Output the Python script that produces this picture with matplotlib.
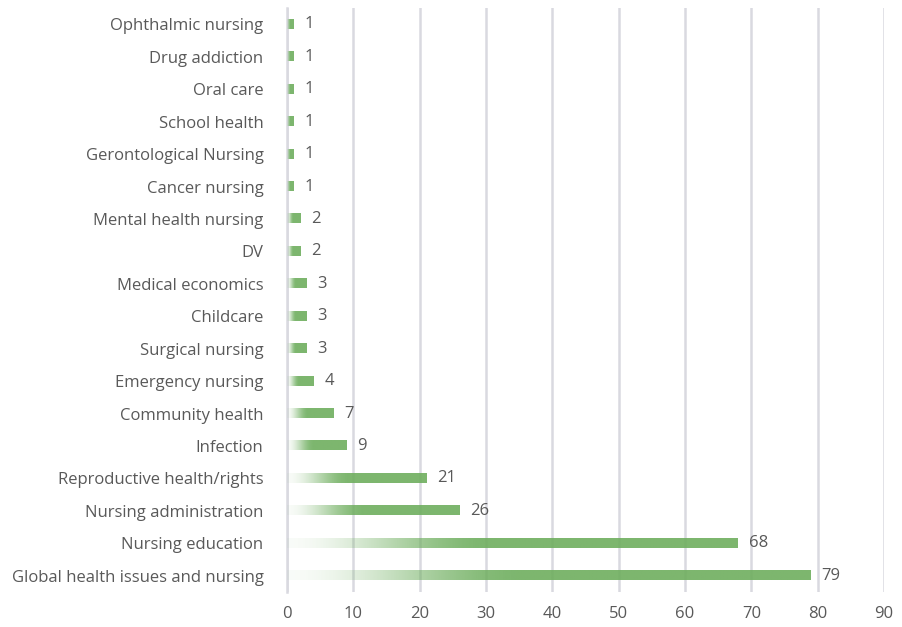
import numpy as np
import matplotlib
matplotlib.use("Agg")
from matplotlib import pyplot as plt
from matplotlib.colors import to_rgb

categories = ["Global health issues and nursing", "Nursing education", "Nursing administration",
              "Reproductive health/rights", "Infection", "Community health", "Emergency nursing",
              "Surgical nursing", "Childcare", "Medical economics", "DV", "Mental health nursing",
              "Cancer nursing", "Gerontological Nursing", "School health", "Oral care",
              "Drug addiction", "Ophthalmic nursing"]
counts = [79, 68, 26, 21, 9, 7, 4, 3, 3, 3, 2, 2, 1, 1, 1, 1, 1, 1]

plt.rcParams['font.family'] = ['Open Sans', 'DejaVu Sans']
text_color = "#595959"
green = to_rgb("#6eae5e")

fig = plt.figure(figsize=(9.03, 6.27), dpi=100)
ax = fig.add_axes([0.318, 0.056, 0.661, 0.931])

bar_h = 0.28
ramp = np.linspace(0, 1, 256)
for i, v in enumerate(counts):
    # fade from white at the left edge to green
    t = np.clip(ramp / 0.45, 0, 1)
    alpha = (0.05 + 0.95 * t * t * (3 - 2 * t)) * 0.9
    img = np.zeros((1, 256, 4))
    img[..., :3] = green
    img[..., 3] = alpha
    ax.imshow(img, extent=[0, v, i - bar_h / 2, i + bar_h / 2], aspect="auto",
              interpolation="bilinear", zorder=3)
    ax.text(v + 1.6, i, str(v), va="center", ha="left", fontsize=12, color=text_color)

ax.set_xlim(0, 90)
ax.set_ylim(-0.5, len(categories) - 0.5)
ax.set_yticks(range(len(categories)))
ax.set_yticklabels(categories, fontsize=12, color=text_color)
ax.set_xticks(range(0, 91, 10))
ax.tick_params(axis="x", labelsize=12, labelcolor=text_color, length=0, pad=10)
ax.tick_params(axis="y", length=0, pad=17)
ax.grid(axis="x", color="#d9d9e0", linewidth=1.8, zorder=0)
ax.set_axisbelow(True)
for s in ["top", "right", "bottom"]:
    ax.spines[s].set_visible(False)
ax.spines["left"].set_color("#d9d9e0")
ax.spines["left"].set_linewidth(1.8)

fig.savefig("out.png", dpi=100)
